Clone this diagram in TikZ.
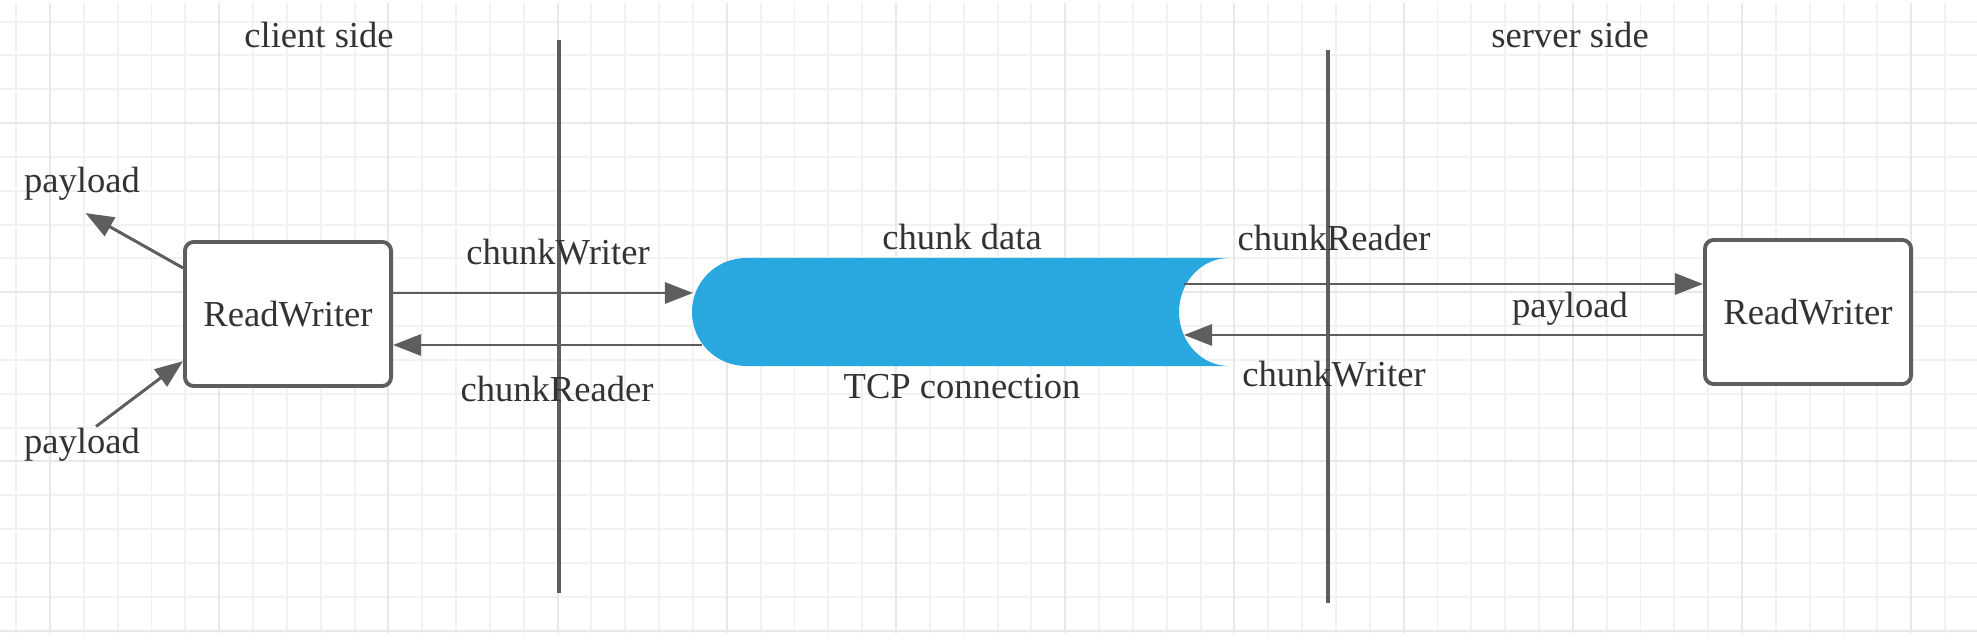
\documentclass[tikz,border=0pt]{standalone}
\usepackage{fontspec}
\setmainfont{Liberation Serif}
\usetikzlibrary{positioning}
\usetikzlibrary{calc}
\usetikzlibrary{arrows.meta}

\definecolor{linegray}{HTML}{5E5E5E}
\definecolor{textgray}{HTML}{333333}
\definecolor{pipeblue}{HTML}{29A8E0}
\definecolor{gridminor}{HTML}{F2F2F2}
\definecolor{gridmajor}{HTML}{E8E8E8}

\begin{document}
\begin{tikzpicture}[x=0.01cm, y=-0.01cm,
  every node/.style={text=textgray, font=\fontsize{10.4}{12}\selectfont},
  rwbox/.style={draw=linegray, line width=1.1pt, fill=white, rounded corners=2.5pt,
    minimum width=2.06cm, minimum height=1.44cm, inner sep=0pt},
  arr/.style={draw=linegray, line width=0.85pt, -{Triangle[length=8pt, width=6pt]}},
  divider/.style={draw=linegray, line width=1.1pt}]

\useasboundingbox[fill=white] (0,0) rectangle (1977,643);

% Grid size
\def\gridstep{33.84}
\def\majorstep{169.2}

% Draw grid
\begin{scope}
\clip (0,4) rectangle (1977,632);
\foreach \i in {-1,...,56} {
    \draw[gridminor, line width=0.55pt] (50+\i*\gridstep,0) -- (50+\i*\gridstep,643);
}
\foreach \j in {-1,...,17} {
    \draw[gridminor, line width=0.55pt] (0,55.4+\j*\gridstep) -- (1977,55.4+\j*\gridstep);
}
\foreach \i in {0,...,11} {
    \draw[gridmajor, line width=0.6pt] (50+\i*\majorstep,0) -- (50+\i*\majorstep,643);
}
\foreach \j in {0,...,3} {
    \draw[gridmajor, line width=0.6pt] (0,123+\j*\majorstep) -- (1977,123+\j*\majorstep);
}
\end{scope}

% TCP pipe
\fill[pipeblue] (1229,258) -- (746,258) arc[start angle=270, end angle=90, radius=54]
    -- (1229,366) arc[start angle=90, end angle=270, x radius=50, y radius=54] -- cycle;
\coordinate (pipeL1) at (693,293);
\coordinate (pipeL2) at (702,345);
\coordinate (pipeR1) at (1184,284);
\coordinate (pipeR2) at (1184,335);

% client / server split
\draw[divider] (559,40) -- (559,593);
\draw[divider] (1328,50) -- (1328,603);

% boxes
\node[rwbox] (leftrw) at (288,314) {ReadWriter};
\node[rwbox] (rightrw) at (1808,312) {ReadWriter};

% labels
\node (clientlbl) at (319,35) {client side};
\node (serverlbl) at (1570,35) {server side};
\node (plup) at (82,184) {payload};
\node (pldown) at (82,445) {payload};
\node (cwleft) at (558,252) {chunkWriter};
\node (crleft) at (557,389) {chunkReader};
\node (datalbl) at (962,237) {chunk data};
\node (tcplbl) at (962,387) {TCP connection};
\node (crright) at (1334,238) {chunkReader};
\node (plright) at (1570,309) {payload};
\node (cwright) at (1334,374) {chunkWriter};

% arrows
\draw[arr] ([yshift=13.1pt]leftrw.west) -- ([xshift=1pt]plup.south);
\draw[arr] ([xshift=4pt,yshift=-3pt]pldown.north) -- ([yshift=-13.4pt]leftrw.west);
\draw[arr] (leftrw.east |- pipeL1) -- (pipeL1);
\draw[arr] (pipeL2) -- (leftrw.east |- pipeL2);
\draw[arr] (pipeR1) -- (rightrw.west |- pipeR1);
\draw[arr] (rightrw.west |- pipeR2) -- (pipeR2);

\end{tikzpicture}
\end{document}
